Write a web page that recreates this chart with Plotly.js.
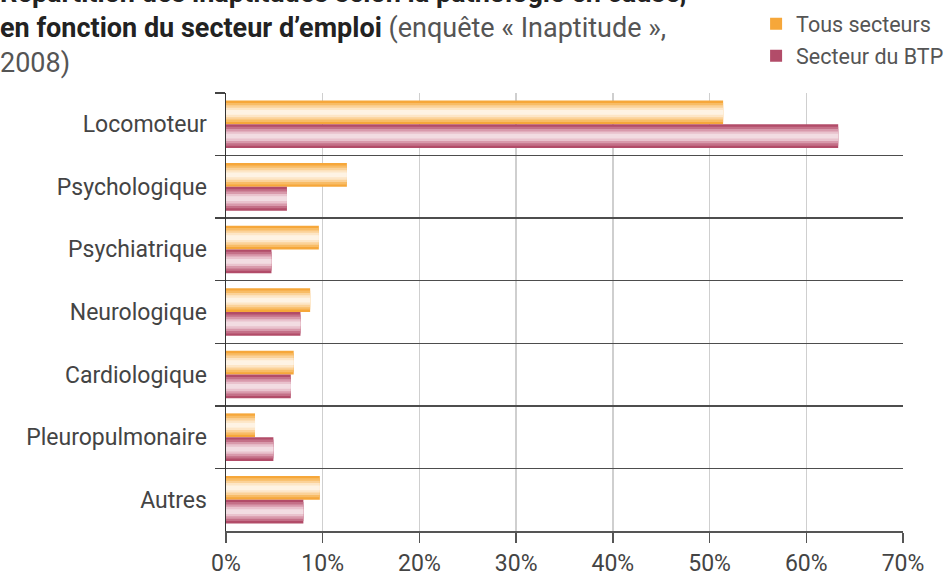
<!DOCTYPE html>
<html>
<head>
<meta charset="utf-8">
<script src="https://cdn.plot.ly/plotly-3.0.1.min.js"></script>
<style>
  html, body { margin: 0; padding: 0; background: #ffffff; }
  #chart { width: 949px; height: 577px; }
</style>
</head>
<body>
<div id="chart"></div>
<script>
// ---- data ----
const categories = ['Locomoteur', 'Psychologique', 'Psychiatrique', 'Neurologique', 'Cardiologique', 'Pleuropulmonaire', 'Autres'];
const tousSecteurs = [51.4, 12.5, 9.6, 8.7, 7.0, 3.0, 9.7];
const secteurBTP = [63.3, 6.3, 4.7, 7.7, 6.7, 4.9, 8.0];
const seriesNames = ['Tous secteurs', 'Secteur du BTP'];
const xTickValues = [0, 10, 20, 30, 40, 50, 60, 70];
const xTickLabels = ['0%', '10%', '20%', '30%', '40%', '50%', '60%', '70%'];

// ---- styling ----
const FONT = 'Roboto, "DejaVu Sans", sans-serif';
const barW = 0.38;
const fractions = [1, 0.8, 0.6, 0.4, 0.2];
const tousShades = ['#F6A73A', '#F8BC66', '#FBD299', '#FDE6C7', '#FEF3E4'];
const btpShades = ['#B24C69', '#C47088', '#D899AB', '#E9C2CD', '#F2DCE2'];

const traces = [];
function addSeries(values, name, shades, center, group) {
  fractions.forEach((f, i) => {
    traces.push({
      type: 'bar',
      orientation: 'h',
      x: values,
      y: categories,
      name: name,
      legendgroup: group,
      showlegend: i === 0,
      width: barW * f,
      offset: center - barW * f / 2,
      marker: { color: shades[i], line: { width: 0 } },
      hoverinfo: 'skip'
    });
  });
}
addSeries(tousSecteurs, seriesNames[0], tousShades, -barW / 2, 'g1');
addSeries(secteurBTP, seriesNames[1], btpShades, barW / 2, 'g2');

const layout = {
  width: 949,
  height: 577,
  margin: { l: 226, r: 46, t: 93, b: 46, pad: 0, autoexpand: false },
  paper_bgcolor: '#ffffff',
  plot_bgcolor: '#ffffff',
  barmode: 'overlay',
  font: { family: FONT, color: '#444444' },
  xaxis: {
    range: [0, 70],
    tickvals: xTickValues,
    ticktext: xTickLabels,
    automargin: false,
    showgrid: true,
    gridcolor: '#cfcfcf',
    gridwidth: 1.5,
    zeroline: false,
    showline: true,
    linecolor: '#555555',
    linewidth: 1.5,
    ticks: 'outside',
    ticklen: 10,
    tickwidth: 1.5,
    tickcolor: '#555555',
    ticklabelstandoff: 1,
    tickfont: { family: FONT, size: 23, color: '#444444' },
    fixedrange: true
  },
  yaxis: {
    type: 'category',
    range: [6.5, -0.5],
    automargin: false,
    tickson: 'boundaries',
    showgrid: true,
    gridcolor: '#4d4d4d',
    gridwidth: 1.5,
    showline: true,
    linecolor: '#333333',
    linewidth: 1.5,
    ticks: 'outside',
    ticklen: 10,
    tickwidth: 1.5,
    tickcolor: '#444444',
    ticklabelstandoff: 13,
    tickfont: { family: FONT, size: 23, color: '#444444' },
    fixedrange: true
  },
  legend: {
    x: 0.783,
    xanchor: 'left',
    y: 1.205,
    yanchor: 'top',
    bgcolor: 'rgba(0,0,0,0)',
    font: { family: FONT, size: 21.5, color: '#555555' },
    traceorder: 'grouped',
    tracegroupgap: 1
  },
  annotations: [{
    xref: 'paper',
    yref: 'paper',
    x: 0,
    y: 1,
    xanchor: 'left',
    yanchor: 'top',
    xshift: -228,
    yshift: 118,
    align: 'left',
    showarrow: false,
    font: { family: FONT, size: 27, color: '#555555' },
    text: '<b><span style="color:#222222">Répartition des inaptitudes selon la pathologie en cause,</span></b><br>' +
          '<b><span style="color:#222222">en fonction du secteur d’emploi</span></b> (enquête « Inaptitude »,<br>' +
          '2008)'
  }]
};

Plotly.newPlot('chart', traces, layout, { displayModeBar: false, staticPlot: true });
</script>
</body>
</html>
